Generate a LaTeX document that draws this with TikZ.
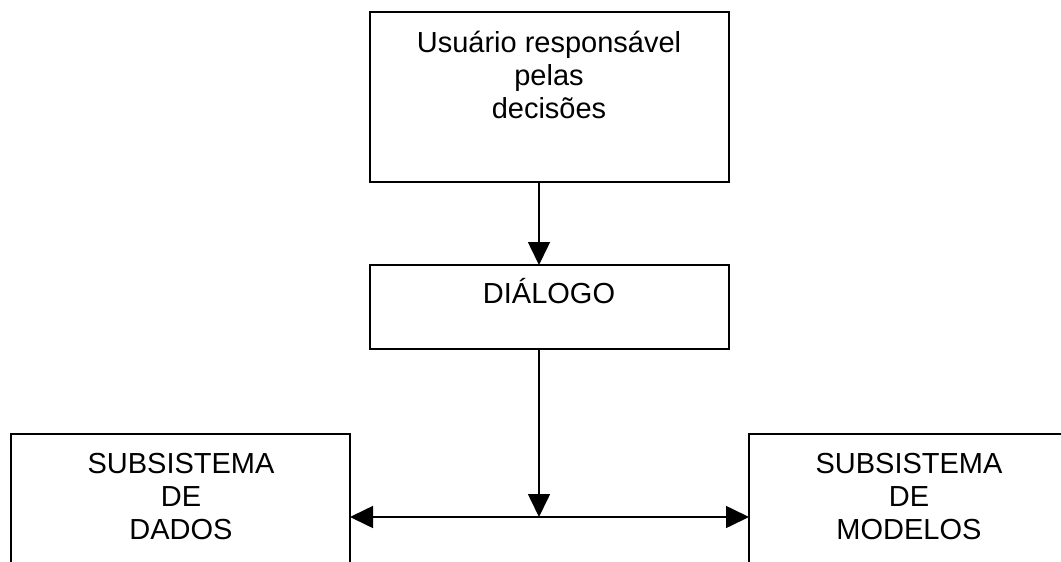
\documentclass[tikz,border=0pt]{standalone}
\usepackage{fontspec}
\setmainfont{Liberation Sans}
\usetikzlibrary{arrows.meta}

\tikzset{
  box/.style={draw, line width=1.6pt, inner sep=0pt, outer sep=0pt, anchor=north west},
  lbl/.style={anchor=base, inner sep=0pt, font=\fontsize{29}{33}\selectfont},
  conn/.style={line width=1.6pt, -{Triangle[length=23pt,width=22pt]}},
  conn2/.style={line width=1.6pt, {Triangle[length=23pt,width=22pt]}-{Triangle[length=23pt,width=22pt]}}
}

\begin{document}
\begin{tikzpicture}[x=1pt,y=-1pt]
  \useasboundingbox (0,0) rectangle (1061,562);
  \clip (0,0) rectangle (1061,562);

  % boxes
  \node[box, minimum width=359pt, minimum height=170pt] (user) at (370,12) {};
  \node[box, minimum width=359pt, minimum height=84pt]  (dlg)  at (370,265) {};
  \node[box, minimum width=339pt, minimum height=170pt] (dados) at (11,434) {};
  \node[box, minimum width=320pt, minimum height=170pt] (modelos) at (749,434) {};

  % texts
  \node[lbl] (u1) at (549,52)  {Usuário responsável};
  \node[lbl] (u2) at (549,85)  {pelas};
  \node[lbl] (u3) at (549,118) {decisões};

  \node[lbl] (d1) at (549,303) {DIÁLOGO};

  \node[lbl] (a1) at (181,473) {SUBSISTEMA};
  \node[lbl] (a2) at (181,506) {DE};
  \node[lbl] (a3) at (181,539) {DADOS};

  \node[lbl] (b1) at (909,473) {SUBSISTEMA};
  \node[lbl] (b2) at (909,506) {DE};
  \node[lbl] (b3) at (909,539) {MODELOS};

  % connectors
  \coordinate (ax) at (539,0);
  \coordinate (hy) at (0,517);
  \draw[conn]  (user.south -| ax) -- (dlg.north -| ax);
  \draw[conn]  (dlg.south -| ax) -- (ax |- hy);
  \draw[conn2] (dados.east |- hy) -- (modelos.west |- hy);
\end{tikzpicture}
\end{document}
